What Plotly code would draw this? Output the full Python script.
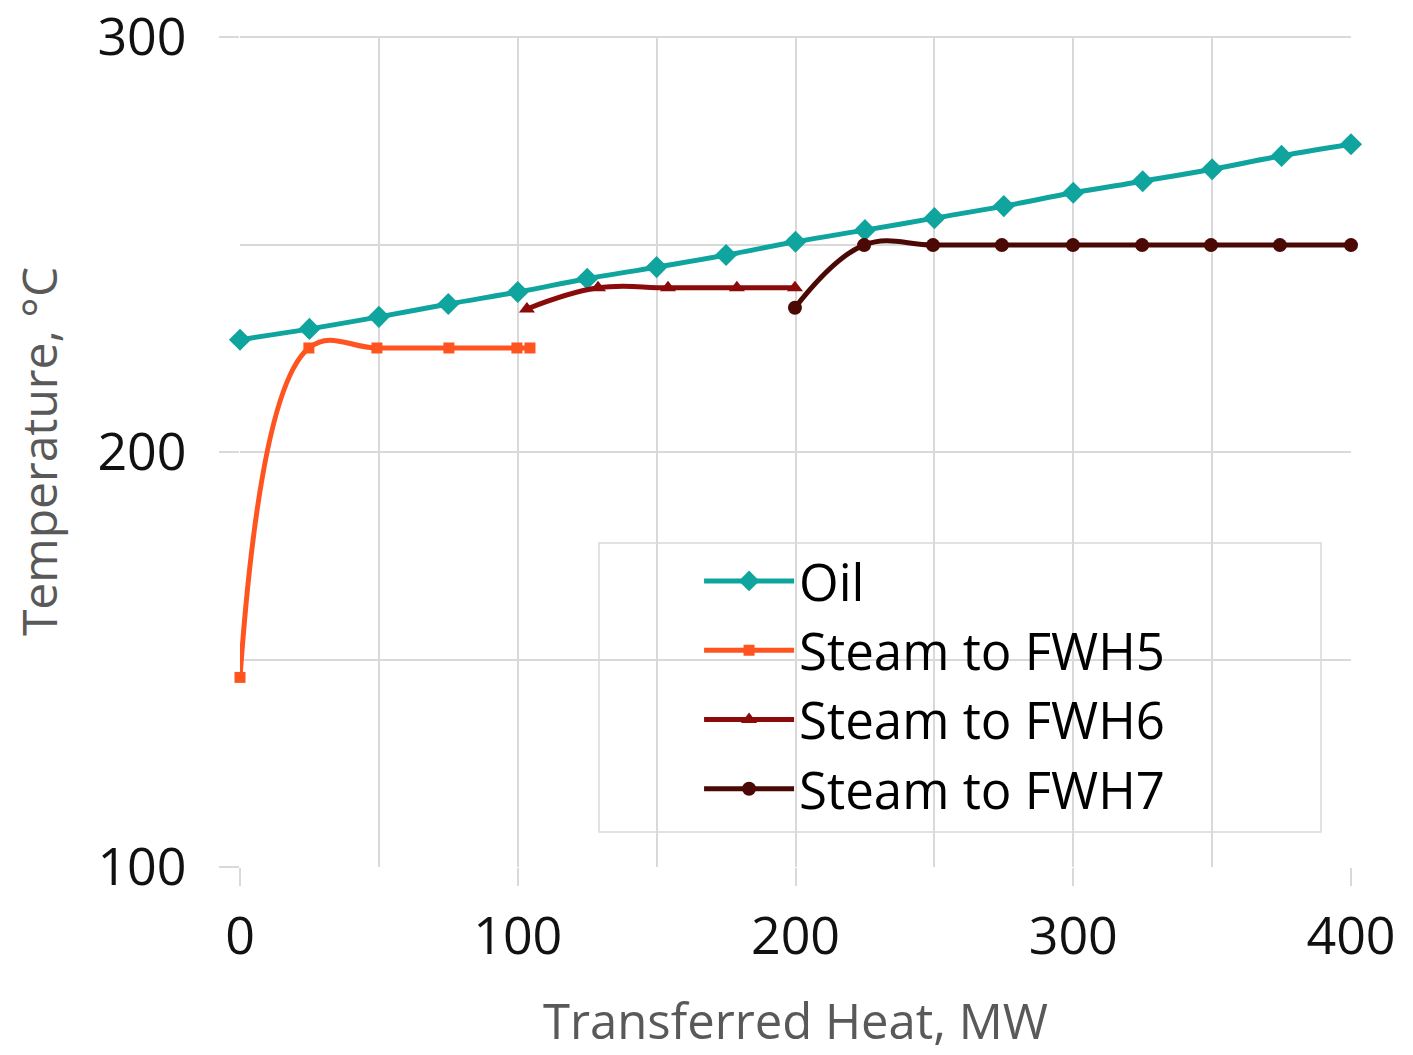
import plotly.graph_objects as go

# ---- data ----
oil_x = [0, 25, 50, 75, 100, 125, 150, 175, 200, 225, 250, 275, 300, 325, 350, 375, 400]
oil_y = [227.1, 229.7, 232.6, 235.7, 238.6, 241.8, 244.6, 247.5, 250.7, 253.5, 256.4,
         259.3, 262.5, 265.3, 268.2, 271.4, 274.2]

fwh5_x = [0, 24.8, 49.3, 75.2, 99.7, 104.4]
fwh5_y = [145.7, 225.1, 225.1, 225.1, 225.1, 225.1]

fwh6_x = [103.3, 128.9, 154.1, 178.9, 199.8]
fwh6_y = [234.5, 239.6, 239.6, 239.6, 239.6]

fwh7_x = [199.8, 224.7, 249.5, 274.3, 299.9, 324.8, 349.6, 374.4, 400]
fwh7_y = [234.8, 249.9, 249.9, 249.9, 249.9, 249.9, 249.9, 249.9, 249.9]

x_ticks = [0, 100, 200, 300, 400]
y_ticks = [100, 200, 300]

x_title = "Transferred Heat, MW"
y_title = "Temperature, °C"

series = [
    ("Oil", oil_x, oil_y, "#0fa59e", "diamond", 17),
    ("Steam to FWH5", fwh5_x, fwh5_y, "#ff5420", "square", 11),
    ("Steam to FWH6", fwh6_x, fwh6_y, "#8b0a0a", "triangle-up", 14),
    ("Steam to FWH7", fwh7_x, fwh7_y, "#4a0905", "circle", 14),
]

FONT = "Open Sans"
grid = "#d9d9d9"

fig = go.Figure()
for name, xs, ys, col, sym, sz in series:
    fig.add_trace(go.Scatter(
        x=xs, y=ys, name=name, mode="lines+markers",
        line=dict(color=col, width=5, shape="spline", smoothing=1.15),
        marker=dict(symbol=sym, size=sz, color=col),
        cliponaxis=False,
    ))

# legend frame (box behind the legend entries)
fig.add_shape(type="rect", xref="paper", yref="paper",
              x0=0.3231, x1=0.973, y0=0.0421, y1=0.3899,
              fillcolor="white", line=dict(color=grid, width=1.5),
              layer="between")

# x-axis title
fig.add_annotation(text=x_title, xref="paper", yref="paper",
                   x=0.5, y=-0.184, xanchor="center", yanchor="middle",
                   showarrow=False,
                   font=dict(family=FONT, size=49, color="#595959"))

fig.update_layout(
    width=1413, height=1055,
    margin=dict(l=240, r=62, t=36, b=188),
    paper_bgcolor="white", plot_bgcolor="white",
    font=dict(family=FONT, size=52, color="#111111"),
    showlegend=True,
    legend=dict(
        x=0.4132, y=0.392, xanchor="left", yanchor="top",
        bgcolor="rgba(0,0,0,0)", borderwidth=0,
        font=dict(family=FONT, size=51, color="#000000"),
        itemwidth=90, tracegroupgap=0,
    ),
    xaxis=dict(
        range=[0, 400], tickvals=x_ticks, automargin=False,
        showgrid=True, gridcolor=grid, gridwidth=2,
        ticks="outside", ticklen=18, tickcolor=grid, tickwidth=2,
        minor=dict(dtick=50, showgrid=True, gridcolor=grid, gridwidth=2),
        zeroline=False, showline=False,
        ticklabelstandoff=6,
        tickfont=dict(family=FONT, size=52, color="#111111"),
    ),
    yaxis=dict(
        range=[100, 300.3], tickvals=y_ticks, automargin=False,
        showgrid=True, gridcolor=grid, gridwidth=2,
        ticks="outside", ticklen=20, tickcolor=grid, tickwidth=2,
        minor=dict(dtick=50, showgrid=True, gridcolor=grid, gridwidth=2),
        zeroline=False, showline=False,
        ticklabelstandoff=22, ticklabeloverflow="allow",
        tickfont=dict(family=FONT, size=52, color="#111111"),
        title=dict(text=y_title, standoff=24,
                   font=dict(family=FONT, size=48, color="#595959")),
    ),
)

fig.write_html("out.html")
